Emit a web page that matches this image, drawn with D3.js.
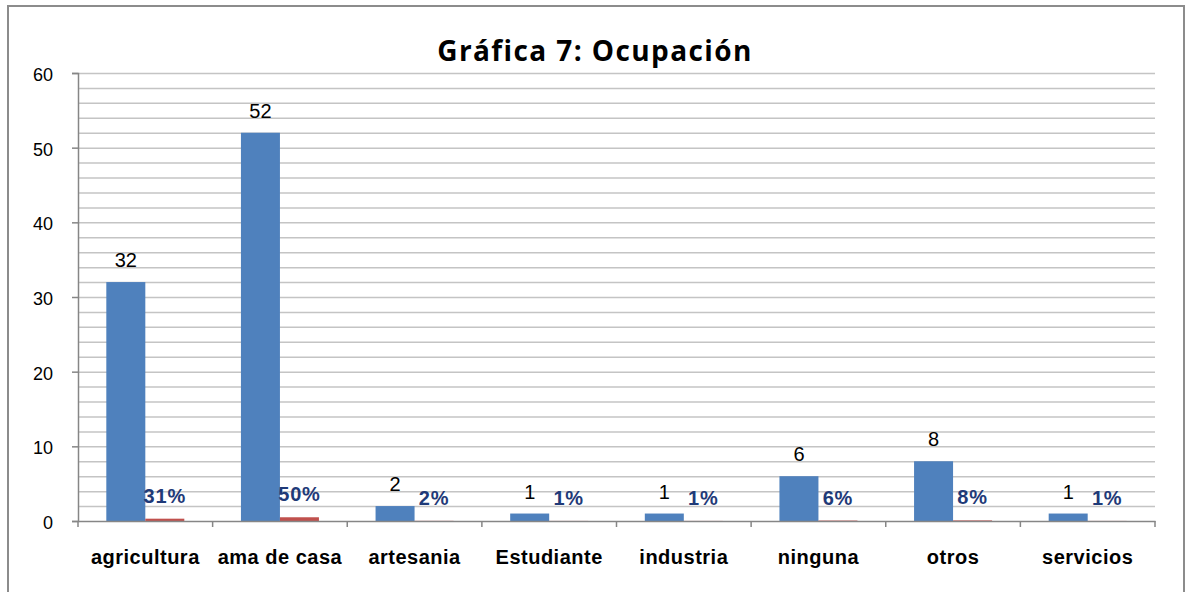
<!DOCTYPE html>
<html>
<head>
<meta charset="utf-8">
<script src="https://cdn.jsdelivr.net/npm/d3@7"></script>
<style>
  body { margin: 0; background: #fff; }
  text { font-family: "Liberation Sans", Arial, sans-serif; }
</style>
</head>
<body>
<div id="chart"></div>
<script>
const categories = ["agricultura", "ama de casa", "artesania", "Estudiante", "industria", "ninguna", "otros", "servicios"];
const counts = [32, 52, 2, 1, 1, 6, 8, 1];
const shares = [0.31, 0.50, 0.02, 0.01, 0.01, 0.06, 0.08, 0.01];
const yTicks = [0, 10, 20, 30, 40, 50, 60];
const title = "Gráfica 7: Ocupación";

const width = 1186, height = 592;
const plot = { left: 78, right: 1155, top: 73, bottom: 521 };

const svg = d3.select('#chart').append('svg')
    .attr('width', width).attr('height', height);

// outer frame
svg.append('rect')
    .attr('x', 8).attr('y', 6)
    .attr('width', 1176).attr('height', 600)
    .attr('fill', 'white')
    .attr('stroke', '#8c8c8c').attr('stroke-width', 2);

svg.append('text')
    .attr('x', 595).attr('y', 61)
    .attr('text-anchor', 'middle')
    .style('font-family', '"Open Sans", Lato, sans-serif')
    .style('font-weight', 'bold')
    .style('font-size', '28px')
    .style('letter-spacing', '1.4px')
    .attr('fill', '#000')
    .text(title);

const y = d3.scaleLinear().domain([0, 60]).range([plot.bottom, plot.top]);
const x = d3.scaleBand().domain(categories).range([plot.left, plot.right]);
const series = d3.scaleBand().domain(['count', 'share'])
    .range([0, x.bandwidth()]).paddingOuter(0.726);

// gridlines every 2 units
const grid = svg.append('g')
    .attr('transform', `translate(${plot.left},0)`)
    .call(d3.axisLeft(y).tickValues(d3.range(2, 61, 2)).tickSize(-(plot.right - plot.left)).tickFormat(''));
grid.select('.domain').remove();
grid.selectAll('line').attr('stroke', '#c4c4c4').attr('stroke-width', 1.5);

// y axis
const yAxis = svg.append('g')
    .attr('transform', `translate(${plot.left},0)`)
    .call(d3.axisLeft(y).tickValues(yTicks).tickSize(6).tickPadding(19));
yAxis.select('.domain').attr('stroke', '#868686').attr('stroke-width', 1.5);
yAxis.selectAll('line').attr('stroke', '#868686').attr('stroke-width', 1.5);
yAxis.selectAll('text')
    .attr('dy', '0.42em')
    .style('font-size', '18px')
    .attr('fill', '#000');

// bars
const groups = svg.append('g').selectAll('g')
    .data(categories)
    .join('g')
    .attr('transform', d => `translate(${x(d)},0)`);

groups.append('rect')
    .attr('x', series('count'))
    .attr('width', series.bandwidth())
    .attr('y', (d, i) => y(counts[i]))
    .attr('height', (d, i) => y(0) - y(counts[i]))
    .attr('fill', '#4f81bd');

groups.append('rect')
    .attr('x', series('share'))
    .attr('width', series.bandwidth())
    .attr('y', (d, i) => y(shares[i]))
    .attr('height', (d, i) => y(0) - y(shares[i]))
    .attr('fill', '#c0504d');

groups.append('text')
    .attr('x', series('count') + series.bandwidth() / 2)
    .attr('y', (d, i) => y(counts[i]) - 15)
    .attr('text-anchor', 'middle')
    .style('font-size', '20px')
    .attr('fill', '#000')
    .text((d, i) => counts[i]);

groups.append('text')
    .attr('x', series('share') + series.bandwidth() / 2)
    .attr('y', (d, i) => y(shares[i]) - 16)
    .attr('text-anchor', 'middle')
    .style('font-size', '20px')
    .style('font-weight', 'bold')
    .style('letter-spacing', '0.8px')
    .attr('fill', '#1f3a78')
    .text((d, i) => d3.format('.0%')(shares[i]));

// x axis
const xAxis = svg.append('g')
    .attr('transform', `translate(0,${plot.bottom})`)
    .call(d3.axisBottom(x).tickSize(0).tickPadding(29));
xAxis.select('.domain').attr('stroke', '#868686').attr('stroke-width', 1.5);
xAxis.selectAll('text')
    .style('font-size', '20px')
    .style('font-weight', 'bold')
    .style('letter-spacing', '0.5px')
    .attr('fill', '#000');

svg.append('g').selectAll('line')
    .data(categories.map(c => x(c)).concat([plot.right]))
    .join('line')
    .attr('x1', d => d).attr('x2', d => d)
    .attr('y1', plot.bottom).attr('y2', plot.bottom + 6)
    .attr('stroke', '#868686').attr('stroke-width', 1.5);
</script>
</body>
</html>
